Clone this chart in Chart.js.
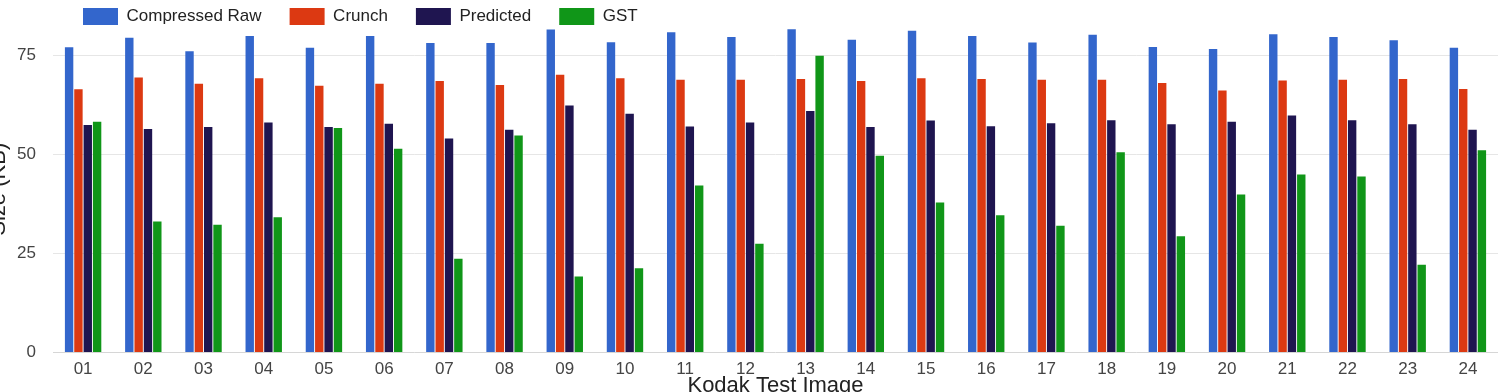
<!DOCTYPE html>
<html>
<head>
<meta charset="utf-8">
<title>Kodak Test Image sizes</title>
<script src="https://cdn.jsdelivr.net/npm/chart.js@4/dist/chart.umd.min.js"></script>
<style>
    html, body { margin: 0; padding: 0; background: #fff; overflow: hidden; }
    body { width: 1501px; height: 392px; position: relative; }
    /* the original picture is cropped a little on the left and top */
    #wrap { position: absolute; left: -18px; top: -20px; width: 1519px; height: 419px; }
</style>
</head>
<body>
<div id="wrap"><canvas id="sizeChart"></canvas></div>
<script>
// Chart data (KB)
const images = ['01', '02', '03', '04', '05', '06', '07', '08', '09', '10', '11', '12',
                '13', '14', '15', '16', '17', '18', '19', '20', '21', '22', '23', '24'];
const compressedRaw = [77.1, 79.5, 76.1, 80.0, 77.0, 80.0, 78.2, 78.2, 81.6, 78.4, 80.9, 79.7,
                       81.7, 79.0, 81.3, 80.0, 78.3, 80.3, 77.2, 76.7, 80.4, 79.7, 78.9, 77.0];
const crunch = [66.5, 69.5, 67.9, 69.3, 67.4, 67.9, 68.6, 67.6, 70.2, 69.3, 68.9, 68.9,
                69.1, 68.6, 69.3, 69.1, 68.9, 68.9, 68.1, 66.2, 68.7, 68.9, 69.1, 66.6];
const predicted = [57.5, 56.5, 57.0, 58.1, 57.0, 57.8, 54.1, 56.3, 62.4, 60.3, 57.1, 58.1,
                   61.0, 57.0, 58.6, 57.2, 57.9, 58.7, 57.7, 58.3, 59.9, 58.7, 57.7, 56.3];
const gst = [58.3, 33.1, 32.3, 34.2, 56.7, 51.5, 23.7, 54.8, 19.2, 21.3, 42.2, 27.5,
             75.0, 49.7, 37.9, 34.7, 32.0, 50.6, 29.4, 39.9, 45.0, 44.5, 22.2, 51.1];
const yTicks = [0, 25, 50, 75];

const FONT = '"Liberation Sans", Arial, sans-serif';

// legend sits in a short row, shifted right over the plot
const legendLayout = {
    id: 'legendLayout',
    beforeInit(chart) {
        const fit = chart.legend.fit;
        chart.legend.fit = function() {
            fit.call(this);
            this.height = 46;
        };
    },
    afterLayout(chart) {
        chart.legend.left += 73;
        chart.legend.right += 73;
    }
};

function makeSet(label, data, color) {
    return {
        label: label,
        data: data,
        backgroundColor: color,
        borderWidth: 0,
        barPercentage: 0.9,
        categoryPercentage: 0.62
    };
}

const ctx = document.getElementById('sizeChart').getContext('2d');

new Chart(ctx, {
    type: 'bar',
    data: {
        labels: images,
        datasets: [
            makeSet('Compressed Raw', compressedRaw, '#3366cc'),
            makeSet('Crunch', crunch, '#dc3912'),
            makeSet('Predicted', predicted, '#1f1550'),
            makeSet('GST', gst, '#109618')
        ]
    },
    options: {
        responsive: true,
        maintainAspectRatio: false,
        animation: false,
        devicePixelRatio: 1,
        layout: { padding: { left: 0, right: 3, top: 0, bottom: 0 } },
        plugins: {
            legend: {
                position: 'top',
                align: 'start',
                labels: {
                    boxWidth: 35,
                    boxHeight: 17,
                    padding: 28,
                    color: '#222',
                    font: { family: FONT, size: 17 }
                }
            },
            tooltip: { enabled: false }
        },
        scales: {
            x: {
                grid: { display: false, drawTicks: false },
                border: { display: false },
                ticks: {
                    color: '#444',
                    padding: 7,
                    font: { family: FONT, size: 17 }
                },
                title: {
                    display: true,
                    text: 'Kodak Test Image',
                    color: '#222',
                    padding: { top: -7, bottom: 7 },
                    font: { family: FONT, size: 22, lineHeight: 0.55 }
                }
            },
            y: {
                min: 0,
                max: 82.5,
                afterBuildTicks: function(scale) {
                    scale.ticks = yTicks.map(v => ({ value: v }));
                },
                afterFit: function(scale) {
                    scale.width = 71;
                },
                grid: {
                    drawTicks: false,
                    color: (c) => (c.tick && c.tick.value === 0) ? '#d6d6d6' : '#e6e6e6'
                },
                border: { display: false },
                ticks: {
                    color: '#444',
                    padding: 17,
                    font: { family: FONT, size: 17 }
                },
                title: {
                    display: true,
                    text: 'Size (KB)',
                    color: '#222',
                    font: { family: FONT, size: 22 }
                }
            }
        }
    },
    plugins: [legendLayout]
});
</script>
</body>
</html>
